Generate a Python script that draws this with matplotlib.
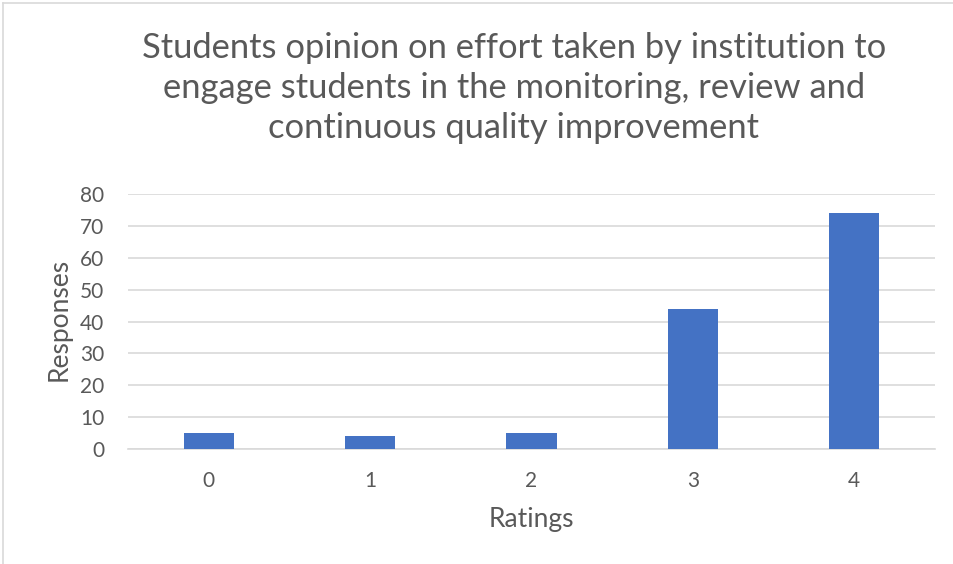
import numpy as np
import matplotlib.pyplot as plt
from matplotlib.lines import Line2D

# chart data
ratings = ['0', '1', '2', '3', '4']
responses = [5, 4, 5, 44, 74]
y_ticks = [0, 10, 20, 30, 40, 50, 60, 70, 80]

title = ('Students opinion on effort taken by institution to\n'
         'engage students in the monitoring, review and\n'
         'continuous quality improvement')

txt = '#595959'
grid = '#d9d9d9'
plt.rcParams['font.family'] = ['Lato', 'DejaVu Sans']

fig = plt.figure(figsize=(9.54, 5.64), dpi=100)
ax = fig.add_axes([128/954, 115/564, 807/954, 255/564])

x = np.arange(len(ratings))
ax.bar(x, responses, width=0.31, color='#4472c4', zorder=3)

ax.set_xlim(-0.5, len(ratings) - 0.5)
ax.set_ylim(0, 80)
ax.set_yticks(y_ticks)
ax.set_xticks(x)
ax.set_xticklabels(ratings)
ax.yaxis.grid(True, color=grid, linewidth=1.2, zorder=0)
ax.tick_params(length=0, labelsize=15, colors=txt)
ax.tick_params(axis='x', pad=16)
ax.tick_params(axis='y', pad=17)
for s in ['top', 'right', 'left']:
    ax.spines[s].set_visible(False)
ax.spines['bottom'].set_color(grid)
ax.spines['bottom'].set_linewidth(1.2)

# axis titles
fig.text(531/954, 1 - 519/564, 'Ratings', ha='center', va='center',
         fontsize=19, color=txt)
fig.text(59/954, 1 - 319/564, 'Responses', ha='center', va='center',
         fontsize=19, color=txt, rotation=90)

fig.text(514/954, 1 - 88/564, title, ha='center', va='center',
         fontsize=24.8, color=txt, linespacing=1.3)

# chart border
fig.add_artist(Line2D([3/954, 3/954], [0, 1 - 3/564], color=grid, lw=1.2))
fig.add_artist(Line2D([3/954, 1], [1 - 3/564, 1 - 3/564], color=grid, lw=1.2))

fig.savefig('out.png', dpi=100)
